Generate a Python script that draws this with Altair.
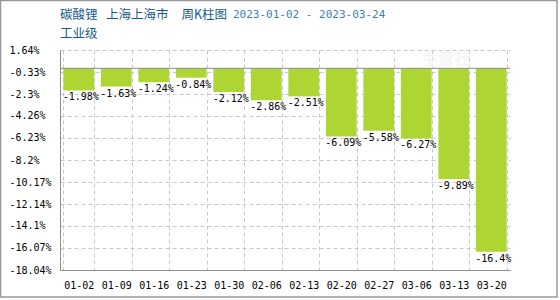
import altair as alt
import pandas as pd

dates = ["01-02", "01-09", "01-16", "01-23", "01-30", "02-06", "02-13",
         "02-20", "02-27", "03-06", "03-13", "03-20"]
values = [-1.98, -1.63, -1.24, -0.84, -2.12, -2.86, -2.51,
          -6.09, -5.58, -6.27, -9.89, -16.4]
y_ticks = [1.64, -0.33, -2.3, -4.26, -6.23, -8.2, -10.17, -12.14, -14.1, -16.07, -18.04]

title_parts = ["碳酸锂", "上海上海市", "周K柱图"]
title_date = "2023-01-02 - 2023-03-24"
subtitle = "工业级"

df = pd.DataFrame({"date": dates, "v": values})
df["label"] = [f"{v:g}%" for v in values]

MONO = "DejaVu Sans Mono"
CJK = "Noto Sans CJK SC"

x_scale = alt.Scale(paddingInner=0.18, paddingOuter=0.09)
y_scale = alt.Scale(domain=[-18.04, 1.64], nice=False, zero=False)
y_axis = alt.Axis(values=y_ticks, labelExpr="datum.value + '%'",
                  labelAlign="left", labelPadding=51)

x_enc = alt.X("date:N", sort=dates, title=None, scale=x_scale,
              axis=alt.Axis(labelAngle=0, labelPadding=10, tickBand="extent"))
y_enc = alt.Y("v:Q", scale=y_scale, title=None, axis=y_axis)

base = alt.Chart(df)

bars = base.mark_bar(color="#add632").encode(x=x_enc, y=y_enc, y2=alt.datum(0))

labels = base.mark_text(font=MONO, fontSize=10, color="#000", align="left",
                        baseline="top", dx=-16, dy=2).encode(
    x=x_enc, y=y_enc, text="label:N")

zero_df = pd.DataFrame({"v": [0.0]})
zero = alt.Chart(zero_df).mark_rule(color="#8c8c8c").encode(
    y=y_enc, x=alt.value(0), x2=alt.value(450))


def deco_text(text, px, py, font, size, color, weight="normal"):
    return alt.Chart(pd.DataFrame({"t": [text]})).mark_text(
        font=font, fontSize=size, color=color, align="left", baseline="middle",
        fontWeight=weight).encode(text="t:N", x=alt.value(px), y=alt.value(py))


watermark = deco_text("生意社", 362, 10, CJK, 16, "#f6f4f4", "bold")
title_x = [0, 46, 121.5]
titles = [deco_text(t, px, -35.5, CJK, 12.5, "#14598c") for t, px in zip(title_parts, title_x)]
t2 = deco_text(title_date, 173, -35.5, MONO, 11, "#3d7fb2")
t3 = deco_text(subtitle, 0, -16.5, CJK, 12.5, "#14598c")

frame = alt.Chart(pd.DataFrame({"f": [1]})).mark_rect(
    fill="transparent", stroke="#999", strokeWidth=1.5).encode(
    x=alt.value(-59.5), x2=alt.value(497), y=alt.value(-49.5), y2=alt.value(247))

chart = alt.layer(bars, zero, labels, watermark, *titles, t2, t3, frame).properties(
    width=450, height=220,
    autosize=alt.AutoSizeParams(type="none"),
    padding={"left": 60, "top": 50, "right": 50, "bottom": 30},
    background="white",
).configure_view(stroke=None).configure_axis(
    labelFont=MONO, labelFontSize=10, labelColor="#000", ticks=False, tickSize=0,
    grid=True, gridColor="#c8c8c8", gridDash=[4, 3], gridWidth=1,
    domainColor="#8c8c8c", labelOverlap=False, labelBound=False, labelFlush=False,
)

chart.save("out.html", embed_options={"renderer": "svg", "actions": False})
